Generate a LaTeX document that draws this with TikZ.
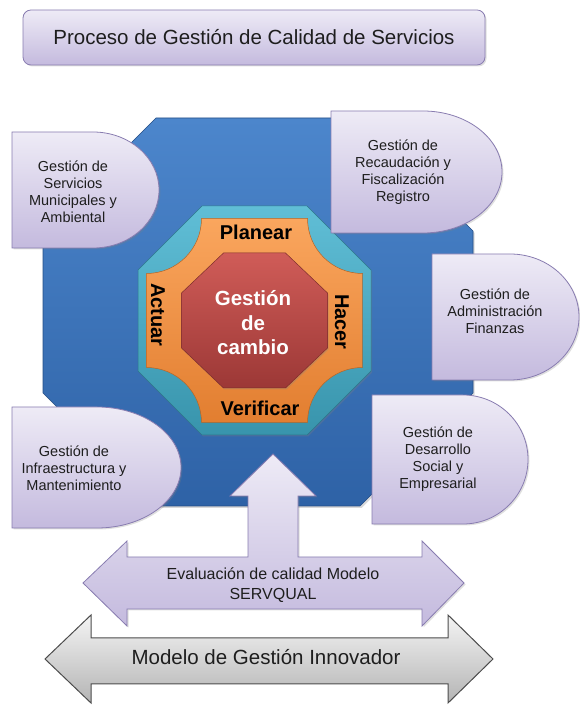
\documentclass[tikz,border=0pt]{standalone}
\usepackage{fontspec}
\setmainfont{Liberation Sans}
\usepackage{xcolor}
\usepackage{tikz}
\usetikzlibrary{shadows}

\definecolor{lavtop}{RGB}{238,235,246}
\definecolor{lavbot}{RGB}{196,186,222}
\definecolor{lavline}{RGB}{136,124,176}
\definecolor{bluetop}{RGB}{76,134,204}
\definecolor{bluebot}{RGB}{46,98,166}
\definecolor{tealtop}{RGB}{96,190,214}
\definecolor{tealbot}{RGB}{56,148,172}
\definecolor{orgtop}{RGB}{250,166,94}
\definecolor{orgbot}{RGB}{226,126,48}
\definecolor{redtop}{RGB}{208,92,88}
\definecolor{redbot}{RGB}{156,56,54}
\definecolor{graytop}{RGB}{244,244,244}
\definecolor{graybot}{RGB}{180,180,180}
\definecolor{txtgray}{RGB}{30,30,30}

\tikzset{
  lavshape/.style={draw=lavline, line width=0.8pt, top color=lavtop, bottom color=lavbot,
    drop shadow={opacity=0.25, shadow xshift=1.5pt, shadow yshift=-1.5pt}},
  boxtext/.style={align=center, text=txtgray, font=\fontsize{14.5}{17}\selectfont},
  pdcalabel/.style={text=black, font=\bfseries\fontsize{20}{24}\selectfont}
}

\begin{document}
\begin{tikzpicture}[x=1pt, y=1pt]
    \useasboundingbox (0,0) rectangle (580,706);

    % Title
    \node[lavshape, rounded corners=8pt, minimum width=462pt, minimum height=55pt,
      text=txtgray, font=\fontsize{20.5}{24}\selectfont] (title) at (254,668.5)
      {Proceso de Gestión de Calidad de Servicios};

    % Blue octagon (background)
    \draw[draw=bluebot!80!black, line width=0.6pt, top color=bluetop, bottom color=bluebot,
      drop shadow={opacity=0.3, shadow xshift=1.5pt, shadow yshift=-2pt}]
      (156,588) -- (360,588) -- (473,475) -- (473,313) -- (360,200) -- (156,200)
      -- (43,313) -- (43,475) -- cycle;

    % PDCA cycle
    \begin{scope}[shift={(254.5,385.5)}]
      % teal ring
      \draw[draw=tealbot!80!black, line width=0.5pt, top color=tealtop, bottom color=tealbot,
        drop shadow={opacity=0.3, shadow xshift=1pt, shadow yshift=-1.5pt}]
        (-52.5,114.5) -- (52.5,114.5) -- (116.5,50.5) -- (116.5,-50.5) -- (52.5,-114.5)
        -- (-52.5,-114.5) -- (-116.5,-50.5) -- (-116.5,50.5) -- cycle;
      % orange plaque
      \draw[draw=orgbot!80!black, line width=0.5pt, top color=orgtop, bottom color=orgbot]
        (-53,102) -- (53,102) arc[start angle=180, end angle=270, radius=55pt]
        -- (108,-47) arc[start angle=90, end angle=180, radius=55pt]
        -- (-53,-102) arc[start angle=0, end angle=90, radius=55pt]
        -- (-108,47) arc[start angle=-90, end angle=0, radius=55pt] -- cycle;
      % red core
      \draw[draw=redbot!80!black, line width=0.5pt, top color=redtop, bottom color=redbot,
        drop shadow={opacity=0.3, shadow xshift=1pt, shadow yshift=-1.5pt}]
        (-31,67.5) -- (31,67.5) -- (73,27.5) -- (73,-27.5) -- (31,-67.5) -- (-31,-67.5)
        -- (-73,-27.5) -- (-73,27.5) -- cycle;
      \node[align=center, text=white, font=\bfseries\fontsize{20.5}{24.5}\selectfont] (core)
        at (-1.5,-2.5) {Gestión\\de\\cambio};

      \node[pdcalabel] (planear) at (1.5,88.5) {Planear};
      \node[pdcalabel, rotate=-90] (hacer) at (87.5,-1.5) {Hacer};
      \node[pdcalabel] (verificar) at (5.5,-87.5) {Verificar};
      \node[pdcalabel, rotate=-90] (actuar) at (-96.5,5.5) {Actuar};
    \end{scope}

    % Management areas
    \draw[lavshape] (12,574) -- (93,574) arc[start angle=90, end angle=-90, x radius=66pt, y radius=58pt]
      -- (12,458) -- cycle;
    \node[boxtext] (servicios) at (73,514.5) {Gestión de\\Servicios\\Municipales y\\Ambiental};

    \draw[lavshape] (331,595) -- (423,595) arc[start angle=90, end angle=-90, x radius=79pt, y radius=61pt]
      -- (331,473) -- cycle;
    \node[boxtext] (recaudacion) at (403,533.5) {Gestión de\\Recaudación y\\Fiscalización\\Registro};

    \draw[lavshape] (432,452) -- (510,452) arc[start angle=90, end angle=-90, x radius=69pt, y radius=63pt]
      -- (432,326) -- cycle;
    \node[boxtext] (finanzas) at (495,395) {Gestión de\\Administración\\Finanzas};

    \draw[lavshape] (12,299) -- (97,299) arc[start angle=90, end angle=-90, x radius=84pt, y radius=60.5pt]
      -- (12,178) -- cycle;
    \node[boxtext] (infra) at (74,238) {Gestión de\\Infraestructura y\\Mantenimiento};

    \draw[lavshape] (372,311) -- (463,311) arc[start angle=90, end angle=-90, x radius=65pt, y radius=64.5pt]
      -- (372,182) -- cycle;
    \node[boxtext] (desarrollo) at (438,247) {Gestión de\\Desarrollo\\Social y\\Empresarial};

    % SERVQUAL arrow (left-right-up)
    \draw[lavshape, line join=miter]
      (83,123) -- (127,165) -- (127,149) -- (248,149) -- (248,210) -- (230,210) -- (273,252)
      -- (316,210) -- (298,210) -- (298,149) -- (422,149) -- (422,165) -- (464,123)
      -- (422,80) -- (422,97) -- (127,97) -- (127,80) -- cycle;
    \node[align=center, text=txtgray, font=\fontsize{16}{20}\selectfont] (servqual) at (273,121)
      {Evaluación de calidad Modelo\\SERVQUAL};

    % Innovation model arrow
    \draw[draw=black!70, line width=1pt, top color=graytop, bottom color=graybot, line join=miter]
      (45,47) -- (91,91) -- (91,68) -- (448,68) -- (448,91) -- (493,47) -- (448,3)
      -- (448,22) -- (91,22) -- (91,3) -- cycle;
    \node[text=txtgray, font=\fontsize{20.5}{24}\selectfont] (innovador) at (266,49)
      {Modelo de Gestión Innovador};
\end{tikzpicture}
\end{document}
